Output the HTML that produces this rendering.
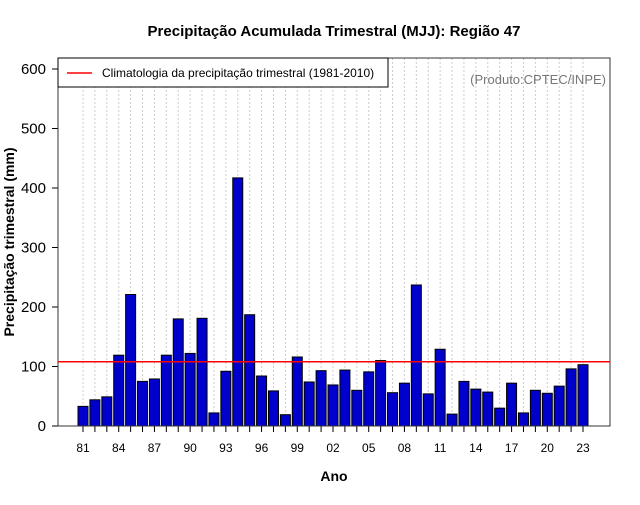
<!DOCTYPE html>
<html><head><meta charset="utf-8"><style>
body{margin:0;background:#fff;font-family:"Liberation Sans",sans-serif}
</style></head><body>
<svg width="640" height="500" xmlns="http://www.w3.org/2000/svg">
<rect width="640" height="500" fill="#fff"/>
<text x="334" y="36" text-anchor="middle" font-size="15" font-weight="bold">Precipitação Acumulada Trimestral (MJJ): Região 47</text>
<g id="grid"></g>
<g id="bars"></g>
<g id="axes"></g>
<rect x="58" y="58" width="552" height="368" fill="none" stroke="#333"/>
<line id="clim" x1="58" x2="610" stroke="#ff0000" stroke-width="1.5"/>
<rect x="58" y="58" width="330" height="29" fill="#fff" stroke="#000"/>
<line x1="67" x2="92" y1="73" y2="73" stroke="#ff0000" stroke-width="1.5"/>
<text x="102" y="77" font-size="12">Climatologia da precipitação trimestral (1981-2010)</text>
<text x="606" y="84" text-anchor="end" font-size="13" fill="#777">(Produto:CPTEC/INPE)</text>
<text x="334" y="481" text-anchor="middle" font-size="14" font-weight="bold">Ano</text>
<text transform="translate(14,242) rotate(-90)" text-anchor="middle" font-size="14" font-weight="bold">Precipitação trimestral (mm)</text>
</svg>
<script>
const years=[1981,1982,1983,1984,1985,1986,1987,1988,1989,1990,1991,1992,1993,1994,1995,1996,1997,1998,1999,2000,2001,2002,2003,2004,2005,2006,2007,2008,2009,2010,2011,2012,2013,2014,2015,2016,2017,2018,2019,2020,2021,2022,2023];
const precip=[33,44,49,119,221,75,79,119,180,122,181,22,92,417,187,84,59,19,116,74,93,69,94,60,91,110,56,72,237,54,129,20,75,62,57,30,72,22,60,55,67,96,103];
const climatology=108;
const yTicks=[0,100,200,300,400,500,600];
const NS="http://www.w3.org/2000/svg";
function xs(i){return 83+i*(500/42);}
function ys(v){return 426-v*0.595;}
function mk(tag,attrs,parent){const e=document.createElementNS(NS,tag);for(const k in attrs)e.setAttribute(k,attrs[k]);document.getElementById(parent).appendChild(e);return e;}
years.forEach((y,i)=>{
  const g=mk('line',{x1:xs(i),x2:xs(i),y1:58,y2:426,stroke:'#ccc','stroke-dasharray':'2,2'},'grid');
  
  
  const b=mk('rect',{x:xs(i)-5,y:ys(precip[i]),width:10,height:precip[i]*0.595,fill:'#0000cd',stroke:'#000','stroke-width':1},'bars');
  
  
  const t=mk('line',{x1:xs(i),x2:xs(i),y1:426,y2:432,stroke:'#000'},'axes');
  
  
  if(i%3===0){
    const l=mk('text',{x:xs(i),y:452,'text-anchor':'middle','font-size':12},'axes');
    l.textContent=String(y).slice(2);
    
    
  }
});
yTicks.forEach(v=>{
  const t=mk('line',{x1:52,x2:58,y1:ys(v),y2:ys(v),stroke:'#000'},'axes');
  
  
  const l=mk('text',{x:46,y:ys(v)+5,'text-anchor':'end','font-size':15},'axes');
  l.textContent=v;
  
  
});
const c=document.getElementById('clim');
c.setAttribute('y1',ys(climatology));c.setAttribute('y2',ys(climatology));
</script>
</body></html>
